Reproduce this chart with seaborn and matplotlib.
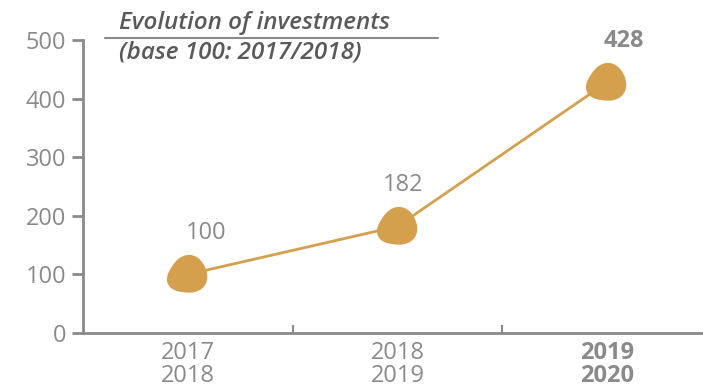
import numpy as np
import pandas as pd
import matplotlib
matplotlib.use("Agg")
import matplotlib.pyplot as plt
from matplotlib.path import Path
from matplotlib.lines import Line2D
import seaborn as sns

# Data
periods = ["2017\n2018", "2018\n2019", "2019\n2020"]
index_values = [100, 182, 428]
y_ticks = [0, 100, 200, 300, 400, 500]
title_lines = ["Evolution of investments", "(base 100: 2017/2018)"]

# Horizontal nudges (points) for the value labels
label_dx = [13, 4, 12]

GOLD = "#D4A04E"
GREY = "#8A8A8A"
DARK = "#5A5A5A"

sns.set_theme(style="white")
plt.rcParams["font.family"] = ["Open Sans", "DejaVu Sans"]

df = pd.DataFrame({"pos": np.arange(len(periods)), "value": index_values})

# Guitar-pick shaped marker: a rounded blob with one softened point
t = np.linspace(0, 2 * np.pi, 180, endpoint=False)
tip = np.deg2rad(205)
r = 1 + 0.04 * np.cos(3 * (t - tip)) \
    + 0.16 * np.clip(np.cos(t - tip), 0, None) ** 6
verts = np.column_stack([r * np.cos(t), r * np.sin(t)])
verts = np.vstack([verts, verts[:1]])
codes = [Path.MOVETO] + [Path.LINETO] * (len(verts) - 2) + [Path.CLOSEPOLY]
pick = Path(verts, codes)

fig = plt.figure(figsize=(7.03, 3.88), dpi=100)
ax = fig.add_axes([83 / 703, 55 / 388, 620 / 703, 293 / 388])

sns.lineplot(data=df, x="pos", y="value", ax=ax, color=GOLD, linewidth=2,
             marker=pick, markersize=31, markeredgewidth=0,
             markerfacecolor=GOLD)

ax.set_xlim(-0.5, 2.457)
ax.set_ylim(0, 500)
ax.set_xlabel("")
ax.set_ylabel("")

# Spines
for side in ["top", "right"]:
    ax.spines[side].set_visible(False)
for side in ["left", "bottom"]:
    ax.spines[side].set_color(GREY)
    ax.spines[side].set_linewidth(2)

# Y axis
ax.set_yticks(y_ticks)
ax.set_yticklabels([str(v) for v in y_ticks])
ax.tick_params(axis="y", direction="out", length=8, width=2, color=GREY,
               labelcolor=GREY, labelsize=17, pad=4, left=True)

# X axis: separator ticks between periods, labels at period centres
ax.set_xticks([0.5, 1.5])
ax.set_xticklabels(["", ""])
ax.tick_params(axis="x", which="major", direction="in", length=6, width=1.5,
               color=GREY, bottom=True)
ax.set_xticks(df["pos"], minor=True)
ax.set_xticklabels(periods, minor=True)
ax.tick_params(axis="x", which="minor", length=0, labelcolor=GREY,
               labelsize=17, pad=6)
for lbl in ax.get_xticklabels(minor=True):
    lbl.set_linespacing(0.95)
ax.get_xticklabels(minor=True)[-1].set_fontweight("bold")

ax.grid(False)

# Value labels
for x, v, dx in zip(df["pos"], df["value"], label_dx):
    bold = v == max(index_values)
    ax.annotate(str(v), (x, v), xytext=(dx, 30), textcoords="offset points",
                ha="center", va="center", fontsize=17, color=GREY,
                fontweight="bold" if bold else "normal")

# Title with rule between its lines
title_kw = dict(ha="left", va="center", fontsize=17.5, fontstyle="italic",
                fontweight="semibold", color=DARK)
fig.text(119 / 703, 1 - 23 / 388, title_lines[0], **title_kw)
fig.text(119 / 703, 1 - 53 / 388, title_lines[1], **title_kw)
fig.add_artist(Line2D([105 / 703, 438 / 703], [1 - 38 / 388, 1 - 38 / 388],
                      color=GREY, linewidth=1.5))

fig.savefig("out.png", dpi=100)
